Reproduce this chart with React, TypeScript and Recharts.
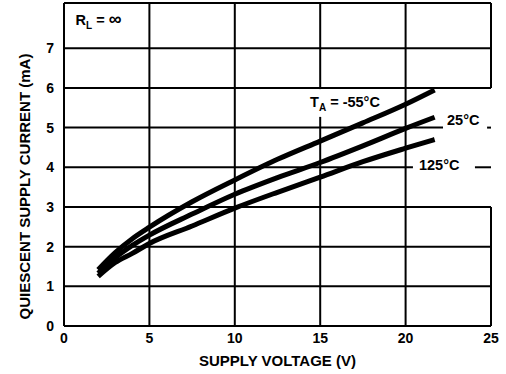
import React from 'react';
import { LineChart, Line, XAxis, YAxis, ReferenceLine, ReferenceArea } from 'recharts';

// Supply voltage (V) sample points and quiescent current (mA) per ambient temperature
const supplyVoltage = [2, 3, 4, 5, 7.5, 10, 12.5, 15, 17.5, 20, 21.7];
const currentMinus55 = [1.42, 1.85, 2.2, 2.49, 3.13, 3.68, 4.2, 4.66, 5.12, 5.59, 5.95];
const current25 = [1.33, 1.72, 2.03, 2.29, 2.82, 3.32, 3.74, 4.12, 4.54, 4.98, 5.26];
const current125 = [1.25, 1.6, 1.83, 2.08, 2.52, 2.97, 3.37, 3.75, 4.14, 4.48, 4.7];

const xTicks = [0, 5, 10, 15, 20, 25];
const yTicks = [0, 1, 2, 3, 4, 5, 6, 7];
const Y_MAX = 8.14;
const X_MAX = 25;

const data = supplyVoltage.map((v, i) => ({
  v,
  tMinus55: currentMinus55[i],
  t25: current25[i],
  t125: current125[i],
}));

// Grid rules, with the stretches left open where the temperature labels sit
type Rule = { at: number; from: number; to: number; gaps: [number, number][] };
const verticalRules: Rule[] = [
  { at: 5, from: 0, to: Y_MAX, gaps: [] },
  { at: 10, from: 0, to: Y_MAX, gaps: [] },
  { at: 15, from: 0, to: Y_MAX, gaps: [[5.27, 5.97]] },
  { at: 20, from: 0, to: Y_MAX, gaps: [] },
  { at: X_MAX, from: 0, to: Y_MAX, gaps: [[3, 6]] },
];
const horizontalRules: Rule[] = [
  { at: 1, from: 0, to: X_MAX, gaps: [] },
  { at: 2, from: 0, to: X_MAX, gaps: [] },
  { at: 3, from: 0, to: X_MAX, gaps: [] },
  { at: 4, from: 0, to: X_MAX, gaps: [[20.43, 24.06]] },
  { at: 5, from: 0, to: X_MAX, gaps: [[22.19, 24.77]] },
  { at: 6, from: 0, to: X_MAX, gaps: [] },
  { at: 7, from: 0, to: X_MAX, gaps: [] },
  { at: Y_MAX, from: 0, to: X_MAX, gaps: [] },
];

const pieces = (r: Rule): [number, number][] => {
  const out: [number, number][] = [];
  let start = r.from;
  r.gaps.forEach(([a, b]) => {
    out.push([start, a]);
    start = b;
  });
  out.push([start, r.to]);
  return out;
};

const FONT = '"Liberation Sans", Arial, Helvetica, sans-serif';
const INK = '#000';

const textStyle = {
  fontFamily: FONT,
  fontWeight: 700,
  fontSize: 14,
  fill: INK,
};

type VB = { x: number; y: number; width: number; height: number };

const placed = (dx: number, dy: number, body: React.ReactNode) =>
  (props: any) => {
    const vb: VB = props.viewBox;
    return (
      <text x={vb.x + dx} y={vb.y + dy} style={{ ...textStyle, fontSize: 14.5 }}>
        {body}
      </text>
    );
  };

const rlText = (
  <>
    R<tspan fontSize={10} dy={4}>L</tspan>
    <tspan dy={-4}> = </tspan>
    <tspan fontSize={18}>∞</tspan>
  </>
);

const taText = (
  <>
    T<tspan fontSize={10} dy={4}>A</tspan>
    <tspan dy={-4}> = -55°C</tspan>
  </>
);

const YTitle = (props: any) => {
  const vb: VB = props.viewBox;
  const cx = vb.x + 24;
  const cy = 186.5;
  return (
    <text
      x={cx}
      y={cy}
      transform={`rotate(-90, ${cx}, ${cy})`}
      textAnchor="middle"
      dominantBaseline="central"
      style={{ ...textStyle, fontSize: 15 }}
    >
      QUIESCENT SUPPLY CURRENT (mA)
    </text>
  );
};

const XTitle = (props: any) => {
  const vb: VB = props.viewBox;
  return (
    <text
      x={vb.x + vb.width / 2}
      y={366}
      textAnchor="middle"
      style={{ ...textStyle, fontSize: 15 }}
    >
      SUPPLY VOLTAGE (V)
    </text>
  );
};

export default function App() {
  return (
    <div style={{ position: 'absolute', left: 0, top: 0, width: 506, height: 374, background: '#fff' }}>
      <LineChart
        width={506}
        height={374}
        data={data}
        margin={{ top: 3, right: 15, bottom: 0, left: 0 }}
      >
        <XAxis
          dataKey="v"
          type="number"
          domain={[0, X_MAX]}
          ticks={xTicks}
          interval={0}
          height={48}
          tickLine={false}
          tickSize={0}
          tickMargin={7}
          axisLine={{ stroke: INK, strokeWidth: 2 }}
          tick={{ ...textStyle, fontSize: 14 }}
          label={XTitle}
        />
        <YAxis
          type="number"
          domain={[0, Y_MAX]}
          ticks={yTicks}
          interval={0}
          width={64}
          tickLine={false}
          tickSize={0}
          tickMargin={10}
          axisLine={{ stroke: INK, strokeWidth: 2 }}
          tick={{ ...textStyle, fontSize: 14 }}
          label={YTitle}
        />

        {verticalRules.flatMap((r) =>
          pieces(r).map(([a, b], k) => (
            <ReferenceLine
              key={`vx${r.at}-${k}`}
              segment={[{ x: r.at, y: a }, { x: r.at, y: b }]}
              stroke={INK}
              strokeWidth={2}
            />
          ))
        )}
        {horizontalRules.flatMap((r) =>
          pieces(r).map(([a, b], k) => (
            <ReferenceLine
              key={`hy${r.at}-${k}`}
              segment={[{ x: a, y: r.at }, { x: b, y: r.at }]}
              stroke={INK}
              strokeWidth={2}
            />
          ))
        )}

        <ReferenceArea
          x1={0.5}
          x2={3.86}
          y1={7.51}
          y2={7.96}
          fill="none"
          stroke="none"
          label={placed(3, 15, rlText)}
        />
        <ReferenceArea
          x1={14.23}
          x2={19.09}
          y1={5.27}
          y2={5.97}
          fill="none"
          stroke="none"
          label={placed(3, 18, taText)}
        />
        <ReferenceArea
          x1={22.19}
          x2={24.77}
          y1={4.94}
          y2={5.44}
          fill="none"
          stroke="none"
          label={placed(4, 15, '25°C')}
        />
        <ReferenceArea
          x1={20.43}
          x2={24.06}
          y1={3.78}
          y2={4.28}
          fill="none"
          stroke="none"
          label={placed(6, 14, '125°C')}
        />

        <Line
          type="monotone"
          dataKey="tMinus55"
          stroke={INK}
          strokeWidth={5}
          dot={false}
          isAnimationActive={false}
        />
        <Line
          type="monotone"
          dataKey="t25"
          stroke={INK}
          strokeWidth={5}
          dot={false}
          isAnimationActive={false}
        />
        <Line
          type="monotone"
          dataKey="t125"
          stroke={INK}
          strokeWidth={5}
          dot={false}
          isAnimationActive={false}
        />
      </LineChart>
    </div>
  );
}
